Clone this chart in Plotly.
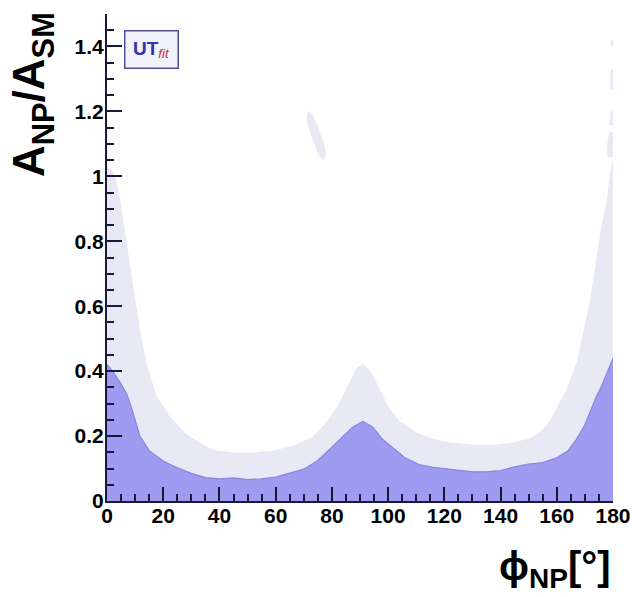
import plotly.graph_objects as go

# ---- data ----
phi_dark = [0, 2, 4.6, 7, 9, 11.7, 15, 20, 25, 30, 35, 40, 45, 50, 55, 60, 65, 70, 75, 80,
            84, 87.5, 91, 94.5, 98, 102, 106, 111, 116, 120, 125, 130, 135, 140, 145, 150,
            155, 160, 164, 167, 170, 172, 174, 176, 178, 180]
a_dark = [0.42, 0.40, 0.366, 0.33, 0.28, 0.20, 0.155, 0.123, 0.102, 0.085, 0.072, 0.068,
          0.071, 0.066, 0.068, 0.074, 0.086, 0.098, 0.125, 0.165, 0.20, 0.228, 0.245,
          0.228, 0.19, 0.16, 0.133, 0.112, 0.104, 0.10, 0.095, 0.09, 0.09, 0.094, 0.105,
          0.114, 0.118, 0.133, 0.155, 0.19, 0.235, 0.28, 0.32, 0.355, 0.395, 0.44]

phi_light = [0, 1.5, 3, 4.6, 6.3, 8.1, 9.9, 11.7, 14.2, 17.7, 22.4, 28, 33, 38, 45, 52, 59,
             66, 73, 78, 82, 86, 89, 91, 93, 96, 100, 104, 110, 116, 122, 130, 138, 145,
             150, 154, 158, 160.3, 164, 167.5, 169.6, 172, 173.8, 175.6, 178, 179, 180]
a_light = [1.03, 1.02, 0.99, 0.926, 0.825, 0.72, 0.618, 0.517, 0.412, 0.32, 0.258, 0.205,
           0.178, 0.155, 0.148, 0.148, 0.154, 0.168, 0.195, 0.24, 0.29, 0.36, 0.41, 0.42,
           0.405, 0.36, 0.29, 0.245, 0.21, 0.19, 0.178, 0.172, 0.172, 0.18, 0.19, 0.209,
           0.25, 0.289, 0.351, 0.434, 0.517, 0.618, 0.72, 0.825, 0.926, 1.0, 1.05]

# isolated islands of the outer region (closed contours, separated by None)
island_phi = [71.5, 73, 75, 77, 77.8, 77, 75.5, 73, 71.2, 71.5, None,
              178.2, 180, 180, 178.9, 178.1, 178.2, None,
              178.8, 180, 180, 179.2, 178.8, None,
              179.0, 180, 180, 179.3, 179.0, None,
              179.3, 180, 180, 179.3]
island_a = [1.20, 1.19, 1.15, 1.10, 1.065, 1.05, 1.065, 1.12, 1.17, 1.20, None,
            1.06, 1.06, 1.135, 1.135, 1.10, 1.06, None,
            1.16, 1.16, 1.20, 1.20, 1.16, None,
            1.27, 1.27, 1.33, 1.33, 1.27, None,
            1.40, 1.40, 1.42, 1.42]

x_ticks = [0, 20, 40, 60, 80, 100, 120, 140, 160, 180]
y_ticks = [0, 0.2, 0.4, 0.6, 0.8, 1, 1.2, 1.4]
y_tick_text = ["0", "0.2", "0.4", "0.6", "0.8", "1", "1.2", "1.4"]

LIGHT = "rgb(232,233,245)"
DARK = "rgb(157,156,240)"
AXIS = "rgb(25,25,60)"

fig = go.Figure()
fig.add_trace(go.Scatter(x=phi_light, y=a_light, mode="lines", fill="tozeroy",
                         fillcolor=LIGHT, line=dict(color=LIGHT, width=1),
                         hoverinfo="skip", showlegend=False))
fig.add_trace(go.Scatter(x=island_phi, y=island_a, mode="lines", fill="toself",
                         fillcolor=LIGHT, line=dict(color=LIGHT, width=1),
                         hoverinfo="skip", showlegend=False))
fig.add_trace(go.Scatter(x=phi_dark, y=a_dark, mode="lines", fill="tozeroy",
                         fillcolor=DARK, line=dict(color="rgb(135,134,225)", width=1.2),
                         hoverinfo="skip", showlegend=False))

tickfont = dict(family="Liberation Sans", size=21, color="black", weight="bold")

fig.update_layout(
    width=632, height=597,
    margin=dict(l=107, r=19, t=14, b=96, autoexpand=False),
    paper_bgcolor="white", plot_bgcolor="white",
    xaxis=dict(range=[0, 180], tickvals=x_ticks, ticks="inside", ticklen=14,
               tickwidth=2, tickcolor=AXIS, showline=True, linecolor=AXIS,
               linewidth=2, showgrid=False, zeroline=False, tickfont=tickfont,
               automargin=False, ticklabelstandoff=-5,
               minor=dict(dtick=5, tick0=0, ticks="inside", ticklen=7,
                          tickwidth=1.5, tickcolor=AXIS, showgrid=False),
               layer="above traces"),
    yaxis=dict(range=[0, 1.5], tickvals=y_ticks, ticktext=y_tick_text,
               ticks="inside", ticklen=15, tickwidth=2, tickcolor=AXIS,
               showline=True, linecolor=AXIS, linewidth=2, showgrid=False,
               zeroline=False, tickfont=tickfont, automargin=False,
               ticklabelstandoff=-3,
               minor=dict(dtick=0.05, tick0=0, ticks="inside", ticklen=7,
                          tickwidth=1.5, tickcolor=AXIS, showgrid=False),
               layer="above traces"),
)

fig.add_annotation(xref="paper", yref="paper", x=-0.148, y=0.834,
                   text="A<sub>NP</sub>/A<sub>SM</sub>", textangle=-90,
                   showarrow=False, xanchor="center", yanchor="middle",
                   font=dict(family="Liberation Sans", size=44, color="black",
                             weight="bold"))
fig.add_annotation(xref="paper", yref="paper", x=1.0, y=-0.14,
                   text="ϕ<sub>NP</sub>[°]", showarrow=False,
                   xanchor="right", yanchor="middle",
                   font=dict(family="Liberation Sans", size=40, color="black",
                             weight="bold"))
fig.add_annotation(xref="paper", yref="paper", x=0.087, y=0.928,
                   text="<b>UT</b><sub><i><span style='color:rgb(210,40,60)'>fit</span></i></sub>",
                   showarrow=False,
                   xanchor="center", yanchor="middle", width=50, height=34,
                   bordercolor="rgb(80,80,150)", borderwidth=1.5,
                   bgcolor="rgb(242,242,250)",
                   font=dict(family="Liberation Sans", size=19,
                             color="rgb(50,50,170)"))

fig.write_html("out.html")
